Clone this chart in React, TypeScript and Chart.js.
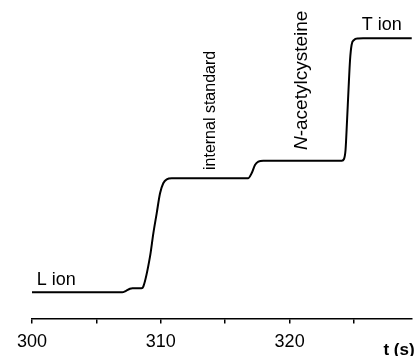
import React, { useEffect, useRef } from "react";
import { Chart, registerables } from "chart.js";

Chart.register(...registerables);

// migration time (s)
const timeValues = [
  300, 307.0, 307.3, 307.6, 307.8, 308.5, 308.64, 309.16, 309.42, 309.68, 309.94, 310.19, 310.46, 310.85,
  316.77, 317.05, 317.31, 317.57, 317.96,
  324.05, 324.22, 324.34, 324.46, 324.57, 324.69, 324.81, 325.0, 325.31, 325.7, 329.48,
];
// detector signal (arbitrary units)
const signalValues = [
  0, 0, 1.5, 3.5, 4, 4, 5.6, 35.6, 59, 79, 99, 109, 113, 114,
  114, 119, 127.3, 130.6, 131.6,
  131.6, 133.3, 142.3, 172.3, 202.3, 232.3, 247.3, 252.3, 253.8, 254, 254,
];
const tickValues = [300, 305, 310, 315, 320, 325];
const labelledTicks = [300, 310, 320];
const zoneLabels = ["L ion", "internal standard", "N-acetylcysteine", "T ion"];
const zoneLabelTimes = [300.36, 314.2, 321.33, 325.6];
const zoneLabelSignals = [7.3, 122.3, 142.3, 262.3];
const axisTitle = "t (s)";

const FONT = "Arial, 'Liberation Sans', sans-serif";

const annotationPlugin = {
  id: "zoneAnnotations",
  afterDraw(chart: any) {
    const { ctx, chartArea } = chart;
    const xs = chart.scales.x;
    const ys = chart.scales.y;
    ctx.save();
    ctx.fillStyle = "#000";
    ctx.textBaseline = "alphabetic";
    ctx.textAlign = "left";

    // L ion
    ctx.font = `18px ${FONT}`;
    ctx.fillText(zoneLabels[0], xs.getPixelForValue(zoneLabelTimes[0]), ys.getPixelForValue(zoneLabelSignals[0]));

    // T ion
    ctx.font = `18px ${FONT}`;
    ctx.fillText(zoneLabels[3], xs.getPixelForValue(zoneLabelTimes[3]), ys.getPixelForValue(zoneLabelSignals[3]));

    // internal standard (vertical)
    ctx.save();
    ctx.translate(xs.getPixelForValue(zoneLabelTimes[1]), ys.getPixelForValue(zoneLabelSignals[1]));
    ctx.rotate(-Math.PI / 2);
    ctx.font = `16px ${FONT}`;
    ctx.fillText(zoneLabels[1], 0, 0);
    ctx.restore();

    // N-acetylcysteine (vertical, italic N)
    ctx.save();
    ctx.translate(xs.getPixelForValue(zoneLabelTimes[2]), ys.getPixelForValue(zoneLabelSignals[2]));
    ctx.rotate(-Math.PI / 2);
    const first = zoneLabels[2].slice(0, 1);
    const rest = zoneLabels[2].slice(1);
    ctx.font = `italic 19px ${FONT}`;
    ctx.fillText(first, 0, 0);
    const w = ctx.measureText(first).width;
    ctx.font = `19px ${FONT}`;
    ctx.fillText(rest, w, 0);
    ctx.restore();

    // axis title
    ctx.font = `bold 17px ${FONT}`;
    ctx.textAlign = "center";
    ctx.fillText(axisTitle, chartArea.right - 13, chartArea.bottom + 36);
    ctx.restore();
  },
};

export default function App() {
  const canvasRef = useRef<HTMLCanvasElement | null>(null);

  useEffect(() => {
    if (!canvasRef.current) return;
    const points = timeValues.map((t, i) => ({ x: t, y: signalValues[i] }));
    const chart = new Chart(canvasRef.current, {
      type: "line",
      data: {
        datasets: [
          {
            data: points,
            borderColor: "#000",
            borderWidth: 2,
            pointRadius: 0,
            fill: false,
            cubicInterpolationMode: "monotone",
          },
        ],
      },
      options: {
        responsive: false,
        animation: false,
        layout: { padding: { left: 32, right: 6, top: 10, bottom: 0 } },
        plugins: { legend: { display: false }, tooltip: { enabled: false } },
        scales: {
          x: {
            type: "linear",
            min: 300,
            max: 329.5,
            afterBuildTicks: (scale: any) => {
              scale.ticks = tickValues.map((v) => ({ value: v }));
            },
            afterFit: (scale: any) => {
              scale.height = 37.5;
            },
            ticks: {
              color: "#000",
              font: { family: FONT, size: 18, lineHeight: 1 },
              padding: 10,
              maxRotation: 0,
              autoSkip: false,
              callback: (v: any) => (labelledTicks.includes(Number(v)) ? String(v) : ""),
            },
            grid: {
              display: true,
              drawOnChartArea: false,
              drawTicks: true,
              tickLength: 5,
              color: "#000",
              lineWidth: 1.5,
            },
            border: { display: true, color: "#000", width: 1.5 },
          },
          y: {
            display: false,
            min: -26.2,
            max: 282.3,
          },
        },
      },
      plugins: [annotationPlugin],
    });
    return () => chart.destroy();
  }, []);

  return (
    <div style={{ position: "fixed", left: 0, top: 0, width: 418, height: 356, background: "#fff" }}>
      <canvas ref={canvasRef} width={418} height={356} />
    </div>
  );
}
